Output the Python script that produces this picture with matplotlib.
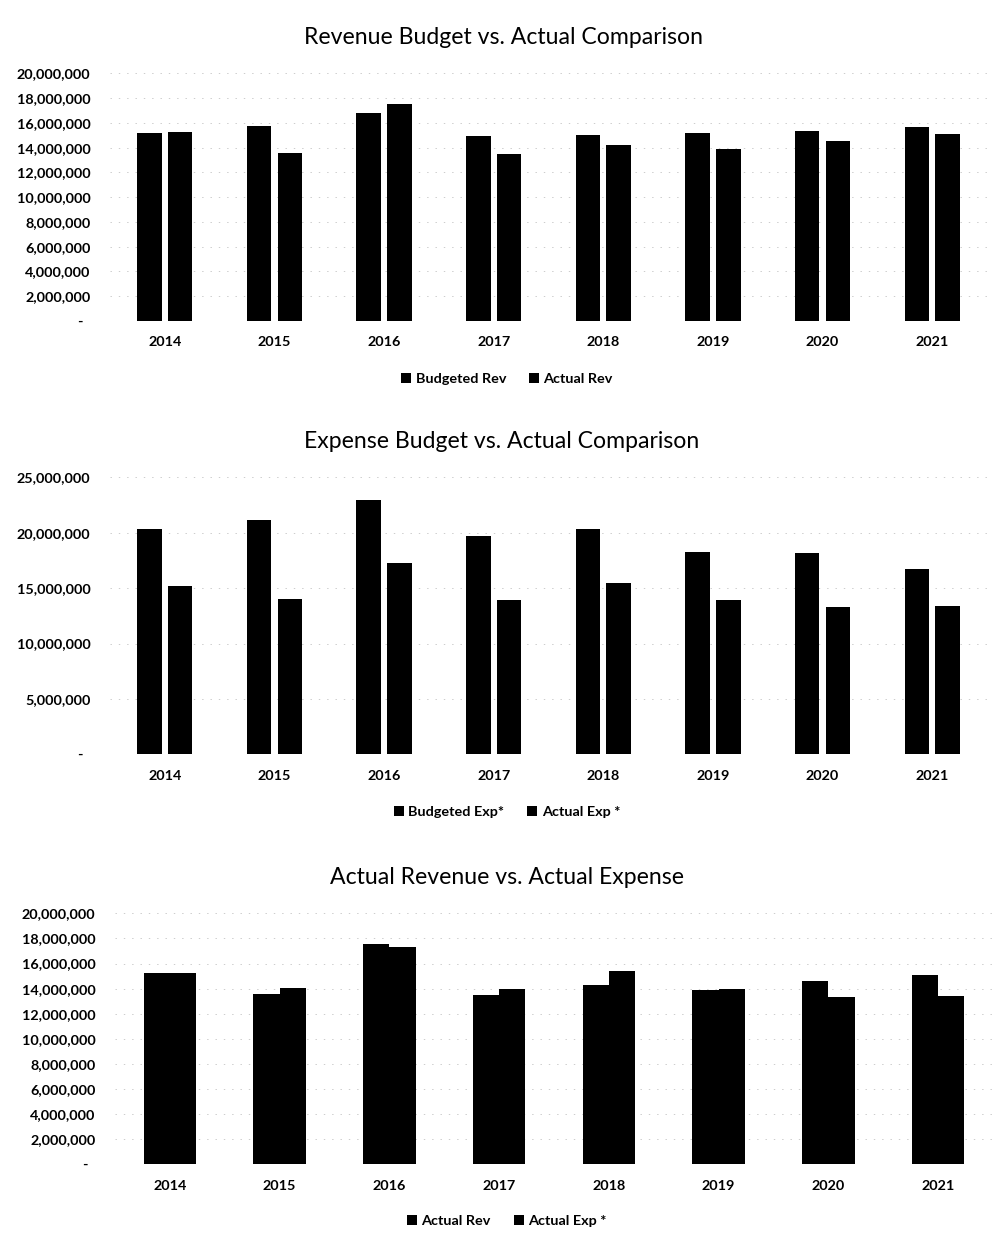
import matplotlib
matplotlib.use("Agg")
import matplotlib.pyplot as plt
from matplotlib.ticker import FuncFormatter, MultipleLocator

plt.rcParams['font.family'] = ['Lato', 'DejaVu Sans']

years = ['2014', '2015', '2016', '2017', '2018', '2019', '2020', '2021']

# revenue, in dollars
budgeted_rev = [15.16e6, 15.72e6, 16.77e6, 14.92e6, 15.05e6, 15.16e6, 15.35e6, 15.67e6]
actual_rev = [15.27e6, 13.54e6, 17.52e6, 13.52e6, 14.25e6, 13.89e6, 14.57e6, 15.07e6]

# expenses, in dollars
budgeted_exp = [20.36e6, 21.17e6, 22.98e6, 19.73e6, 20.31e6, 18.23e6, 18.20e6, 16.70e6]
actual_exp = [15.22e6, 14.05e6, 17.29e6, 13.95e6, 15.42e6, 13.97e6, 13.31e6, 13.40e6]

W, H = 1002, 1240
fig = plt.figure(figsize=(W / 100, H / 100), dpi=100)


def px_axes(left, right, top, bottom):
    return fig.add_axes([left / W, 1 - bottom / H, (right - left) / W, (bottom - top) / H])


def money(v, pos):
    if abs(v) < 1:
        return '-  '
    return '{:,.0f}'.format(v)


def bar_chart(ax, a, b, width, offset, ymax, step, labels, title, title_xy, legend_xy):
    x = range(len(years))
    h1 = ax.bar([i - offset for i in x], a, width, color='black', label=labels[0])
    h2 = ax.bar([i + offset for i in x], b, width, color='black', label=labels[1])
    ax.set_xlim(-0.5, len(years) - 0.5)
    ax.set_ylim(0, ymax)
    ax.yaxis.set_major_locator(MultipleLocator(step))
    ax.yaxis.set_major_formatter(FuncFormatter(money))
    ax.set_xticks(list(x))
    ax.set_xticklabels(years)
    ax.tick_params(axis='y', length=0, pad=14, labelsize=10.4)
    ax.tick_params(axis='x', length=0, pad=11, labelsize=10.4)
    for lab in ax.get_yticklabels() + ax.get_xticklabels():
        lab.set_fontweight('bold')
    for s in ax.spines.values():
        s.set_visible(False)
    ax.grid(axis='y', color='#b8b8b8', linestyle=(0, (2, 10)), linewidth=0.5)
    ax.set_axisbelow(True)
    fig.text(title_xy[0] / W, 1 - title_xy[1] / H, title, ha='center', va='center', fontsize=16.6)
    fig.legend([h1, h2], labels, loc='center', bbox_to_anchor=(legend_xy[0] / W, 1 - legend_xy[1] / H),
               ncol=2, frameon=False, handlelength=0.7, handleheight=0.7, handletextpad=0.3,
               columnspacing=1.6, prop={'size': 10.4, 'weight': 'bold'})


ax1 = px_axes(110, 987, 73.3, 321)
bar_chart(ax1, budgeted_rev, actual_rev, 0.224, 0.14, 20e6, 2e6,
          ['Budgeted Rev', 'Actual Rev'], 'Revenue Budget vs. Actual Comparison', (504, 37), (507, 379))

ax2 = px_axes(110, 987, 477.3, 754.3)
bar_chart(ax2, budgeted_exp, actual_exp, 0.224, 0.14, 25e6, 5e6,
          ['Budgeted Exp*', 'Actual Exp *'], 'Expense Budget vs. Actual Comparison', (502, 441), (507, 812))

ax3 = px_axes(115, 993, 913.3, 1164.3)
bar_chart(ax3, actual_rev, actual_exp, 0.239, 0.1195, 20e6, 2e6,
          ['Actual Rev', 'Actual Exp *'], 'Actual Revenue vs. Actual Expense', (507, 877), (507, 1221))

fig.savefig('out.png', dpi=100, facecolor='white')
